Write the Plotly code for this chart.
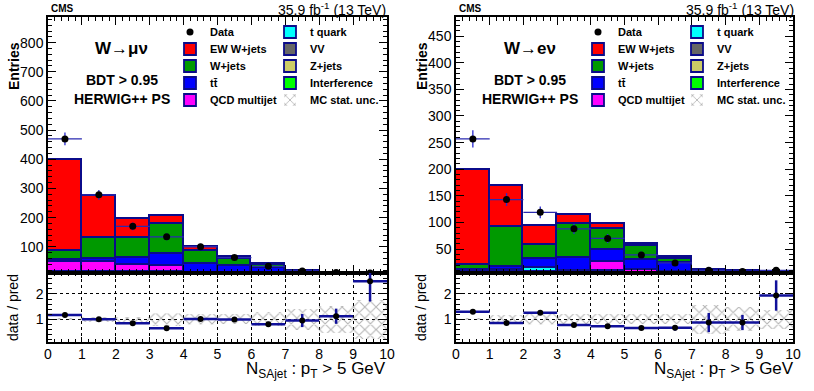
import plotly.graph_objects as go

W, H = 814, 391

bins = [0.5, 1.5, 2.5, 3.5, 4.5, 5.5, 6.5, 7.5, 8.5, 9.5]

# ---- W -> mu nu ----
data_mu = [470, 278, 170, 134, 100, 63, 33, 17, 12, 10]
data_mu_err = [22, 17, 13, 12, 10, 8, 6, 4, 3.5, 3]
vv_mu = [2, 2, 2, 2, 1.5, 1.5, 1.5, 1, 0.5, 0.2]
zjets_mu = [4, 4, 4, 4, 3, 3, 3, 2, 1, 0.4]
interf_mu = [1, 1, 1, 1, 0.5, 0.5, 0.5, 0.3, 0.2, 0.1]
tquark_mu = [5, 5, 5, 5, 3, 3, 3, 1.7, 1.3, 0.5]
qcd_mu = [36, 36, 25, 22, 0, 0, 0, 0, 0, 0]
ttbar_mu = [8, 9, 23, 41, 33, 26, 20, 9, 6, 2.5]
wjets_mu = [28, 72, 69, 102, 46, 25, 10, 2, 1, 0.3]
ew_mu = [314, 145, 65, 29, 12, 5, 3, 1, 1, 0.5]
ratio_mu = [1.17, 1.0, 0.84, 0.64, 1.01, 0.99, 0.8, 0.95, 1.12, 2.5]
ratio_mu_err = [0.03, 0.04, 0.04, 0.04, 0.05, 0.07, 0.1, 0.26, 0.3, 0.8]
mcunc_mu = [0.03, 0.1, 0.1, 0.25, 0.22, 0.2, 0.28, 0.42, 0.54, 0.77]

# ---- W -> e nu ----
data_e = [257, 143, 119, 88, 70, 39, 24, 10, 8, 10]
data_e_err = [16, 12, 11, 9.5, 8.5, 6.5, 5, 3.5, 3, 3]
vv_e = [2, 2, 2, 2, 2, 1, 1.5, 1, 0.5, 0.3]
zjets_e = [3, 3, 4, 3, 3, 2, 2, 1.5, 1, 0.5]
interf_e = [1, 1, 1, 1, 1, 0.5, 0.5, 0.5, 0.3, 0.2]
tquark_e = [3, 4, 8, 2, 2, 1.5, 2, 1, 1.2, 1]
qcd_e = [0, 0, 0, 0, 18, 5, 0, 0, 0, 0]
ttbar_e = [1, 6, 16, 25, 22, 20, 18, 7, 6, 3]
wjets_e = [10, 75, 26, 64, 40, 26, 7, 0.5, 0, 0]
ew_e = [179, 78, 37, 17, 9, 4, 5, 0, 0, 0]
ratio_e = [1.3, 0.85, 1.26, 0.77, 0.72, 0.65, 0.66, 0.87, 0.87, 1.94]
ratio_e_err = [0.05, 0.05, 0.07, 0.05, 0.06, 0.07, 0.11, 0.38, 0.3, 0.6]
mcunc_e = [0.03, 0.16, 0.21, 0.19, 0.19, 0.19, 0.19, 0.58, 0.48, 0.38]

OUTLINE = "#0b0b8a"
FONT = "Liberation Sans, Arial, sans-serif"


def px_x(x):
    return x / W


def px_y(y):
    return 1 - y / H


def leg_name(n):
    return "legend" if n == 1 else "legend%d" % n


# each legend entry is its own one-item legend so the 2-column grid can be placed
def slot(panel, col, row):
    return leg_name(1 + panel * 10 + col * 5 + row)


def add_panel(fig, panel, comps, data, data_err, ratio, ratio_err, mcunc, xa, ya, xr, yr):
    # stacked MC, bottom to top
    for name, vals, color, col, row in comps:
        fig.add_trace(go.Bar(
            x=bins, y=vals, width=1, name=name,
            marker=dict(color=color, line=dict(color=OUTLINE, width=1.8)),
            xaxis=xa, yaxis=ya, legend=slot(panel, col, row)))
    fig.add_trace(go.Scatter(
        x=bins, y=data, mode="markers", name="Data",
        marker=dict(color="black", size=7),
        error_y=dict(type="data", array=data_err, color="#2a2ad0", thickness=1.3, width=0),
        error_x=dict(type="constant", value=0.5, color="#2a2ab0", thickness=1.3, width=0),
        xaxis=xa, yaxis=ya, legend=slot(panel, 0, 0)))
    # ratio pad
    fig.add_trace(go.Bar(
        x=bins, y=[2 * u for u in mcunc], base=[1 - u for u in mcunc], width=1,
        name="MC stat. unc.",
        marker=dict(color="rgba(0,0,0,0)", line=dict(width=0),
                    pattern=dict(shape="x", fgcolor="#6a6a6a", bgcolor="rgba(0,0,0,0)",
                                 size=8, solidity=0.25)),
        xaxis=xr, yaxis=yr, legend=slot(panel, 1, 4)))
    fig.add_trace(go.Scatter(
        x=bins, y=ratio, mode="markers", showlegend=False,
        marker=dict(color="black", size=6),
        error_y=dict(type="data", array=ratio_err, color="#10109a", thickness=2.5, width=0),
        error_x=dict(type="constant", value=0.5, color="#10109a", thickness=2.5, width=0),
        xaxis=xr, yaxis=yr))


def comps_list(vv, zj, intf, tq, qcd, tt, wj, ew):
    # (name, values, colour, legend column, legend row)
    return [
        ("VV", vv, "#666666", 1, 1),
        ("Z+jets", zj, "#cccc66", 1, 2),
        ("Interference", intf, "#00ff00", 1, 3),
        ("t quark", tq, "#00ffff", 1, 0),
        ("QCD multijet", qcd, "#ff00ff", 0, 4),
        ("tt\u0304", tt, "#0000ff", 0, 3),
        ("W+jets", wj, "#009900", 0, 2),
        ("EW W+jets", ew, "#ff0000", 0, 1),
    ]


fig = go.Figure()
add_panel(fig, 0, comps_list(vv_mu, zjets_mu, interf_mu, tquark_mu, qcd_mu, ttbar_mu,
                             wjets_mu, ew_mu),
          data_mu, data_mu_err, ratio_mu, ratio_mu_err, mcunc_mu, "x", "y", "x2", "y2")
add_panel(fig, 1, comps_list(vv_e, zjets_e, interf_e, tquark_e, qcd_e, ttbar_e,
                             wjets_e, ew_e),
          data_e, data_e_err, ratio_e, ratio_e_err, mcunc_e, "x3", "y3", "x4", "y4")

dom_left = [px_x(48), px_x(387)]
dom_right = [px_x(456), px_x(793)]
dom_main = [px_y(273), px_y(17)]
dom_ratio = [px_y(342), px_y(273)]

common = dict(showline=True, linecolor="black", linewidth=1.5, mirror="allticks",
              ticks="inside", tickcolor="black", zeroline=False, automargin=False,
              tickfont=dict(size=14, color="black", family=FONT))
xmain = dict(common, range=[0, 10], dtick=1, ticklen=8, showticklabels=False,
             showgrid=False, minor=dict(dtick=0.2, ticks="inside", ticklen=4, tickcolor="black"))
xratio = dict(common, range=[0, 10], dtick=1, ticklen=5, showgrid=True, gridcolor="black",
              griddash="dot", gridwidth=1, ticklabelstandoff=-2,
              minor=dict(dtick=0.2, ticks="inside", ticklen=3, tickcolor="black", showgrid=False))
yratio = dict(common, range=[0.1, 2.83], tickvals=[1, 2], ticklen=8, showgrid=True,
              gridcolor="black", griddash="dot", gridwidth=1,
              minor=dict(dtick=0.2, ticks="inside", ticklen=4, tickcolor="black", showgrid=False))

leg_common = dict(orientation="v", xanchor="left", yanchor="middle", bgcolor="rgba(0,0,0,0)",
                  itemwidth=30,
                  font=dict(size=11, family=FONT, color="black", weight="bold"))

legends = {}
col_left = [[170, 270], [578, 677]]
for p in range(2):
    for c in range(2):
        for r in range(5):
            legends[slot(p, c, r)] = dict(leg_common, x=px_x(col_left[p][c]), y=px_y(32 + 17 * r))

fig.update_layout(
    width=W, height=H, margin=dict(l=0, r=0, t=0, b=0, autoexpand=False),
    plot_bgcolor="white", paper_bgcolor="white",
    barmode="stack", bargap=0,
    font=dict(family=FONT, color="black"),
    xaxis=dict(xmain, domain=dom_left, anchor="y"),
    yaxis=dict(common, domain=dom_main, anchor="x", range=[10, 888],
               tickvals=[100, 200, 300, 400, 500, 600, 700, 800], ticklen=8, showgrid=False,
               minor=dict(dtick=20, ticks="inside", ticklen=4, tickcolor="black")),
    xaxis2=dict(xratio, domain=dom_left, anchor="y2"),
    yaxis2=dict(yratio, domain=dom_ratio, anchor="x2"),
    xaxis3=dict(xmain, domain=dom_right, anchor="y3"),
    yaxis3=dict(common, domain=dom_main, anchor="x3", range=[5, 486],
                tickvals=[50, 100, 150, 200, 250, 300, 350, 400, 450], ticklen=8, showgrid=False,
                minor=dict(dtick=10, ticks="inside", ticklen=4, tickcolor="black")),
    xaxis4=dict(xratio, domain=dom_right, anchor="y4"),
    yaxis4=dict(yratio, domain=dom_ratio, anchor="x4"),
    **legends,
)

annots = []
for x0, x1, label in [(48, 388, "W\u2192\u03bc\u03bd"), (456, 796, "W\u2192e\u03bd")]:
    cx = x0 + 74
    annots += [
        dict(x=px_x(x0 + 1), y=px_y(9), text="<b>CMS</b>", xanchor="left", font=dict(size=10)),
        dict(x=px_x(x1), y=px_y(9), text="35.9 fb<sup>-1</sup> (13 TeV)", xanchor="right",
             font=dict(size=14)),
        dict(x=px_x(cx), y=px_y(48), text="<b>" + label + "</b>", font=dict(size=17)),
        dict(x=px_x(cx), y=px_y(80), text="<b>BDT > 0.95</b>", font=dict(size=14)),
        dict(x=px_x(cx), y=px_y(99), text="<b>HERWIG++ PS</b>", font=dict(size=14)),
        dict(x=px_x(x0 - 34), y=px_y(66), text="<b>Entries</b>", textangle=-90, font=dict(size=14)),
        dict(x=px_x(x0 - 35), y=px_y(308), text="data / pred", textangle=-90, font=dict(size=14)),
        dict(x=px_x(x1), y=px_y(370), text="N<sub>SAjet</sub> : p<sub>T</sub> > 5 GeV",
             xanchor="right", font=dict(size=17)),
    ]
for a in annots:
    a.setdefault("xanchor", "center")
    a.update(xref="paper", yref="paper", showarrow=False, yanchor="middle")
    a["font"].update(family=FONT, color="black")
fig.update_layout(annotations=annots)

# drop the default 8px page margin so the figure sits at the window origin
fig.write_html("out.html", config={"displayModeBar": False},
               post_script="document.body.style.margin = '0px';")
